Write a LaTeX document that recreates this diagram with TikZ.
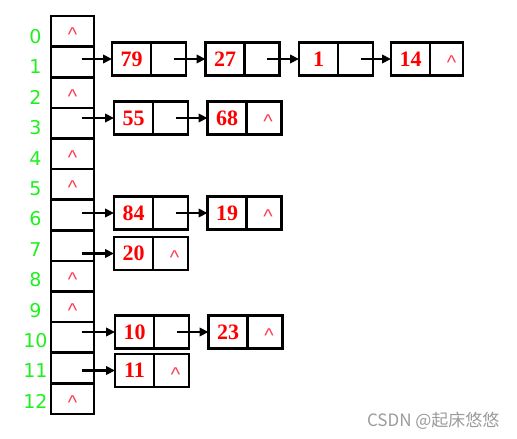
\documentclass[tikz,border=0pt]{standalone}
\usepackage{fontspec}
\setmainfont{Liberation Serif}
\newfontfamily\idxfont{DejaVu Sans}
\newfontfamily\nilfont{Liberation Sans}
\newfontfamily\cjk{Noto Sans CJK SC}
\usetikzlibrary{positioning,arrows.meta}

\definecolor{idxgreen}{RGB}{30,240,30}
\definecolor{nilred}{RGB}{255,60,80}
\definecolor{markgray}{RGB}{155,155,155}

\tikzstyle{cell} = [draw, line width=2.6pt, outer sep=0pt, inner sep=0pt, minimum width=43pt, minimum height=30.6pt]
\tikzstyle{dat} = [draw, line width=2.6pt, outer sep=0pt, inner sep=0pt, minimum width=39pt, minimum height=33pt, text=red, font=\bfseries\fontsize{22}{22}\selectfont]
\tikzstyle{ptr} = [dat, minimum width=35pt]
\tikzstyle{idx} = [text=idxgreen, font=\idxfont\fontsize{19}{19}\selectfont]
\tikzstyle{nil} = [text=nilred, font=\nilfont\fontsize{20}{20}\selectfont, anchor=base, yshift=-10.5pt, inner sep=0pt]
\tikzstyle{arrow} = [-{Triangle[length=9pt,width=8.5pt]}, line width=2.2pt, shorten <=5pt]

\begin{document}
\begin{tikzpicture}[x=1pt, y=-1pt]
  \useasboundingbox (0,0) rectangle (517,439);

  % table
  \node[cell] (c0) at (72.5,31.3) {};
  \foreach \i [remember=\i as \j (initially 0)] in {1,...,12}
    \node[cell, below=0pt of c\j] (c\i) {};
  \foreach \i in {0,...,12}
    \node[idx] (l\i) at (35.5,36.5+30.4*\i) {\i};
  \foreach \i in {0,2,4,5,8,9,12}
    \node[nil] (e\i) at (c\i) {\textasciicircum};

  % row 1
  \node[dat] (n79) at (131.5,59) {79};
  \node[ptr, right=0pt of n79] (p79) {};
  \node[dat, right=19.5pt of p79] (n27) {27};
  \node[ptr, right=0pt of n27] (p27) {};
  \node[dat, right=19.5pt of p27] (n1) {1};
  \node[ptr, right=0pt of n1] (p1) {};
  \node[dat, right=18pt of p1] (n14) {14};
  \node[ptr, right=0pt of n14, minimum width=33pt] (p14) {};
  \node[nil, xshift=5pt] (e14) at (p14) {\textasciicircum};

  % row 3
  \node[dat] (n55) at (133.5,118) {55};
  \node[ptr, right=0pt of n55] (p55) {};
  \node[dat, right=19.5pt of p55] (n68) {68};
  \node[ptr, right=0pt of n68] (p68) {};
  \node[nil, xshift=4pt] (e68) at (p68) {\textasciicircum};

  % row 6
  \node[dat] (n84) at (133.5,213) {84};
  \node[ptr, right=0pt of n84] (p84) {};
  \node[dat, right=19.5pt of p84] (n19) {19};
  \node[ptr, right=0pt of n19] (p19) {};
  \node[nil, xshift=4pt] (e19) at (p19) {\textasciicircum};

  % row 7
  \node[dat] (n20) at (133.5,253.5) {20};
  \node[ptr, right=0pt of n20] (p20) {};
  \node[nil, xshift=4pt] (e20) at (p20) {\textasciicircum};

  % row 10
  \node[dat] (n10) at (134.5,332) {10};
  \node[ptr, right=0pt of n10] (p10) {};
  \node[dat, right=19.5pt of p10] (n23) {23};
  \node[ptr, right=0pt of n23] (p23) {};
  \node[nil, xshift=4pt] (e23) at (p23) {\textasciicircum};

  % row 11
  \node[dat] (n11) at (134.5,370.5) {11};
  \node[ptr, right=0pt of n11] (p11) {};
  \node[nil, xshift=4pt] (e11) at (p11) {\textasciicircum};

  \draw[arrow, shorten <=9pt] (c1.center |- n79.west) -- (n79.west);
  \draw[arrow] (p79.center) -- (n27.west);
  \draw[arrow] (p27.center) -- (n1.west);
  \draw[arrow] (p1.center) -- (n14.west);

  \draw[arrow, shorten <=9pt] (c3.center |- n55.west) -- (n55.west);
  \draw[arrow] (p55.center) -- (n68.west);

  \draw[arrow, shorten <=9pt] (c6.center |- n84.west) -- (n84.west);
  \draw[arrow] (p84.center) -- (n19.west);

  \draw[arrow, shorten <=9pt] (c7.center |- n20.west) -- (n20.west);

  \draw[arrow, shorten <=9pt] (c10.center |- n10.west) -- (n10.west);
  \draw[arrow] (p10.center) -- (n23.west);

  \draw[arrow, shorten <=9pt] (c11.center |- n11.west) -- (n11.west);

  \node[text=markgray, font=\cjk\fontsize{17}{17}\selectfont, anchor=east] (mark) at (503,421) {CSDN @起床悠悠};

\end{tikzpicture}
\end{document}
